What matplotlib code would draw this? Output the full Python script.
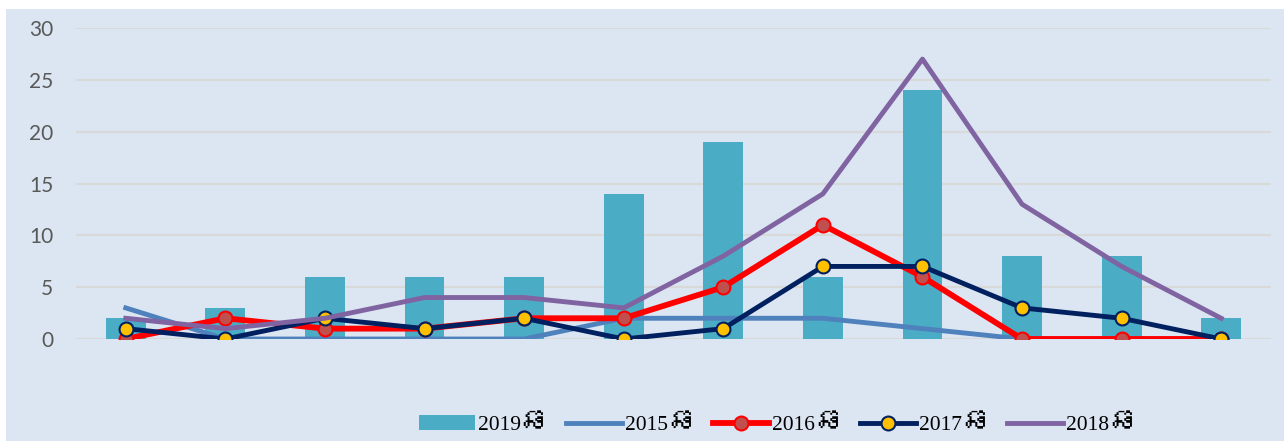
#!/usr/bin/env python3
"""Yearly counts by category: bars for 2019, lines for 2015-2018."""

import matplotlib

matplotlib.use("Agg")
import matplotlib.pyplot as plt
from matplotlib import font_manager
from matplotlib.ft2font import FT2Font
from matplotlib.patches import Rectangle

SUFFIX = "ឆ"

categories = list(range(12))
values_2019 = [2, 3, 6, 6, 6, 14, 19, 6, 24, 8, 8, 2]
values_2015 = [3, 0, 0, 0, 0, 2, 2, 2, 1, 0, 0, 0]
values_2016 = [0, 2, 1, 1, 2, 2, 5, 11, 6, 0, 0, 0]
values_2017 = [1, 0, 2, 1, 2, 0, 1, 7, 7, 3, 2, 0]
values_2018 = [2, 1, 2, 4, 4, 3, 8, 14, 27, 13, 7, 2]
series_years = ["2019", "2015", "2016", "2017", "2018"]
y_ticks = [0, 5, 10, 15, 20, 25, 30]

BG = "#DCE6F2"
W, H = 1284, 441
LEGEND_SIZE = 15.5


def find_khmer_family():
    # none of the usual families carry Khmer, so look for one that does
    for entry in font_manager.fontManager.ttflist:
        try:
            charmap = FT2Font(entry.fname).get_charmap()
        except Exception:
            continue
        if 0x1786 in charmap:
            return entry.name
    return None


khmer_family = find_khmer_family() or "DejaVu Sans"

fig = plt.figure(figsize=(W / 100, H / 100), dpi=100)
fig.patch.set_facecolor("white")
fig.patches.append(
    Rectangle((6 / W, 0), 1 - 6 / W, 1 - 9 / H, transform=fig.transFigure,
              facecolor=BG, edgecolor="none", zorder=-10)
)

ax = fig.add_axes([76 / W, 1 - 339 / H, (1271 - 76) / W, (339 - 28) / H])
ax.set_facecolor("none")

bar_handle = ax.bar(categories, values_2019, width=0.4, color="#4BACC6", zorder=2)
(h2015,) = ax.plot(categories, values_2015, color="#4F81BD", linewidth=3.5, zorder=3)
(h2016,) = ax.plot(categories, values_2016, color="#FF0000", linewidth=4.2, marker="o",
                   markersize=10, markerfacecolor="#C0504D", markeredgecolor="#FF0000",
                   markeredgewidth=1.5, zorder=4)
(h2017,) = ax.plot(categories, values_2017, color="#002060", linewidth=3.5, marker="o",
                   markersize=10, markerfacecolor="#FFC000", markeredgecolor="#002060",
                   markeredgewidth=1.5, zorder=5)
(h2018,) = ax.plot(categories, values_2018, color="#8064A2", linewidth=3.5, zorder=6)

ax.set_xlim(-0.5, 11.5)
ax.set_ylim(0, 30)
ax.set_yticks(y_ticks)
ax.set_xticks([])
ax.yaxis.grid(True, color="#D9D9D9", linewidth=1.5, zorder=0)
ax.set_axisbelow(True)
for spine in ax.spines.values():
    spine.set_visible(False)
ax.tick_params(axis="y", length=0, pad=16.5, labelsize=15, labelcolor="#595959")
for label in ax.get_yticklabels():
    label.set_fontfamily("Lato")

# the Khmer sign is drawn bigger than the serif digits, so it is added
# next to each legend label afterwards instead of inside it
legend = ax.legend(
    [bar_handle, h2015, h2016, h2017, h2018],
    series_years,
    loc="center",
    bbox_to_anchor=(764 / W, 1 - 425 / H),
    bbox_transform=fig.transFigure,
    ncol=5,
    frameon=False,
    prop={"family": ["Liberation Serif", "DejaVu Serif"], "size": LEGEND_SIZE},
    handlelength=2.6,
    handletextpad=0.14,
    columnspacing=2.1,
)

fig.canvas.draw()
renderer = fig.canvas.get_renderer()
for text in legend.get_texts():
    bbox = text.get_window_extent(renderer)
    descent = renderer.get_text_width_height_descent(
        "lp", text.get_fontproperties(), ismath=False
    )[2]
    fig.text(
        (bbox.x1 - 1) / fig.bbox.width,
        (bbox.y0 + descent) / fig.bbox.height,
        SUFFIX,
        ha="left",
        va="baseline",
        fontsize=22,
        family=[khmer_family, "DejaVu Sans"],
        color="black",
    )

fig.savefig("out.png", dpi=100, facecolor=fig.get_facecolor())
